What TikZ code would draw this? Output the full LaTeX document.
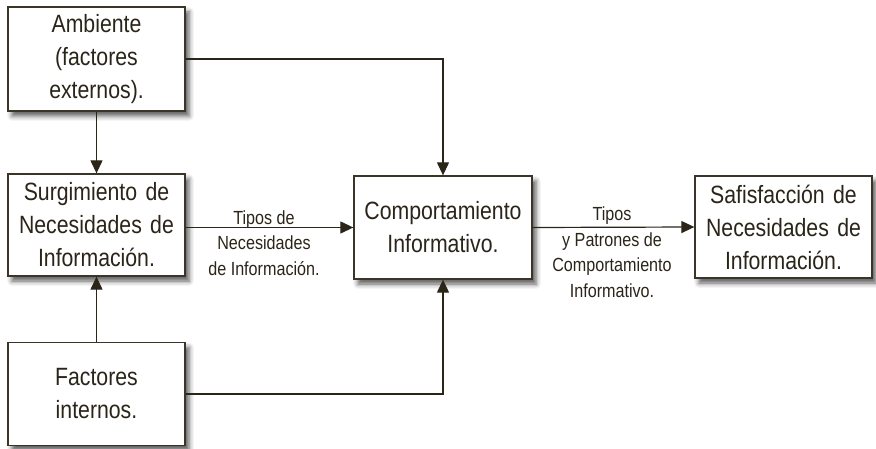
\documentclass[tikz,border=0pt]{standalone}
\usepackage{fontspec}
\setmainfont{Liberation Sans}[FakeStretch=0.85]
\usetikzlibrary{arrows.meta,shadows.blur,positioning}
\definecolor{ink}{HTML}{2B2519}
\definecolor{edge}{HTML}{3A3528}
\tikzset{
  box/.style={draw=edge, line width=1.3pt, fill=white, minimum width=177pt, text width=172pt,
    align=center, inner sep=0pt, text=ink, font=\fontsize{25}{33}\selectfont,
    blur shadow={shadow xshift=4pt, shadow yshift=-5pt, shadow blur radius=5pt, shadow opacity=65}},
  conn/.style={draw=ink, line width=1.2pt, -{Triangle[length=13pt,width=12pt]}},
  lab/.style={text=ink, align=center, inner sep=0pt, font=\fontsize{19}{25.5}\selectfont}
}
\begin{document}
\begin{tikzpicture}[x=1pt,y=-1pt]
\useasboundingbox (0,0) rectangle (876,449);
\node[box, minimum height=104pt] (A) at (96.5,59) {Ambiente\\(factores\\externos).};
\node[box, minimum height=102pt] (S) at (96.5,225) {Surgimiento de\\Necesidades de\\Información.};
\node[box, minimum height=103pt] (F) at (96.5,394) {Factores\\internos.};
\node[box, minimum height=103pt, minimum width=178pt] (C) at (443,227.5) {Comportamiento\\Informativo.};
\node[box, minimum height=102pt] (T) at (783.5,227) {Safisfacción de\\Necesidades de\\Información.};
\draw[conn] (A.south) -- (S.north);
\draw[conn] (F.north) -- (S.south);
\draw[conn] (A.east) -| (C.north);
\draw[conn] (F.east) -| (C.south);
\draw[conn] (S.east |- C.west) -- (C.west);
\draw[conn] (C.east) -- (T.west);
\node[lab] (L1) at (264,243) {Tipos de\\Necesidades\\de Información.};
\node[lab] (L2) at (612,252) {Tipos\\y Patrones de\\Comportamiento\\Informativo.};
\end{tikzpicture}
\end{document}
